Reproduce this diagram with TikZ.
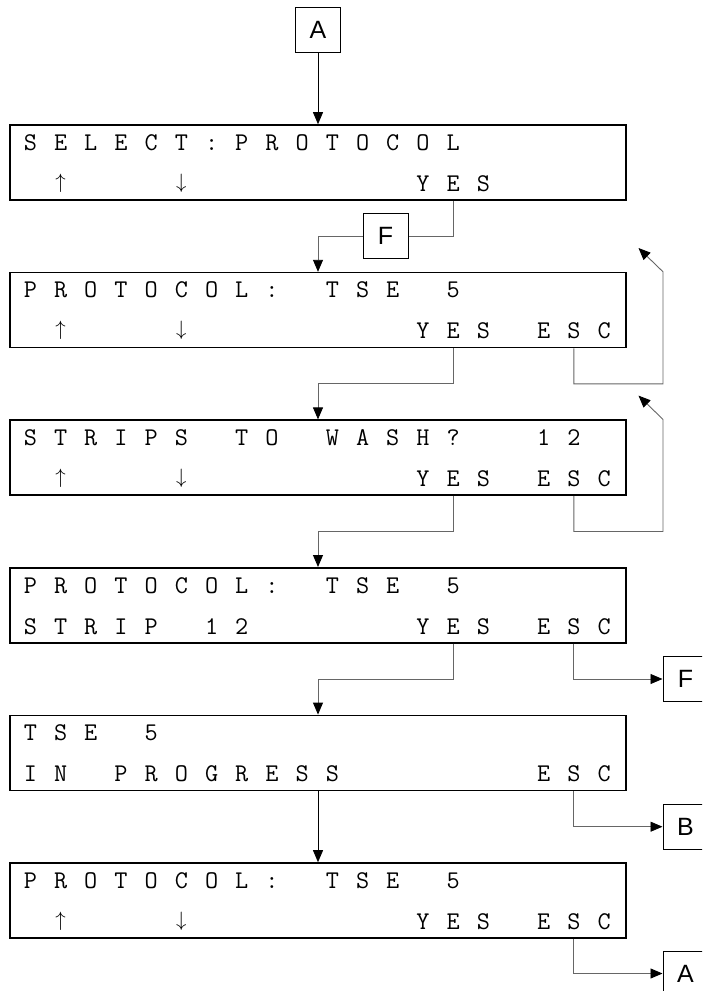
\documentclass[tikz,border=0pt]{standalone}
\usepackage{fontspec}
\newfontfamily\lab{Liberation Sans}
\usetikzlibrary{arrows.meta,calc}
\newlength\lcdw \setlength\lcdw{30.2pt}
\newlength\lcdc \setlength\lcdc{15.1pt}
\let\lcdend\relax
\def\lcd#1{\lcdA#1\lcdend}
\def\lcdA#1{\ifx#1\lcdend\else\lcdB{#1}\expandafter\lcdA\fi}
\def\lcdB#1{\ifx#1.\hbox to\lcdw{\hfil}\else\hbox to\lcdw{\hbox to\lcdc{\hss#1\hss}\hss}\fi}
\newcommand\up{\raisebox{3pt}{\fontsize{20.74}{20.74}\selectfont$\uparrow$}}
\newcommand\dn{\raisebox{3pt}{\fontsize{20.74}{20.74}\selectfont$\downarrow$}}
\begin{document}
\begin{tikzpicture}[x=1pt,y=-1pt,
  screen/.style={draw=black, line width=1.6pt, minimum width=616pt, minimum height=75pt, inner sep=0pt},
  tag/.style={draw=black, line width=1pt, minimum size=45pt, inner sep=0pt, fill=white, font=\lab\fontsize{25}{25}\selectfont},
  txt/.style={anchor=base west, inner sep=0pt, font=\ttfamily\fontsize{25.5}{25.5}\selectfont},
  conn/.style={draw=black!60, line width=0.9pt},
  blk/.style={draw=black, line width=0.9pt},
  arr/.style={-{Triangle[length=12pt,width=10pt,color=black]}}]
\useasboundingbox (0,0) rectangle (702,991);
\clip (0,0) rectangle (702,991);

% screens
\node[screen] (b1) at (318,162.5) {};
\node[screen] (b2) at (318,310.1) {};
\node[screen] (b3) at (318,457.7) {};
\node[screen] (b4) at (318,605.3) {};
\node[screen] (b5) at (318,752.9) {};
\node[screen] (b6) at (318,900.5) {};

\node[txt] (b1a) at ($(b1.north west)+(13.45,26)$) {\lcd{SELECT:PROTOCOL}};
\node[txt] (b1b) at ($(b1.north west)+(13.45,67)$) {\lcd{.\up...\dn.......YES}};
\node[txt] (b2a) at ($(b2.north west)+(13.45,26)$) {\lcd{PROTOCOL:.TSE.5}};
\node[txt] (b2b) at ($(b2.north west)+(13.45,67)$) {\lcd{.\up...\dn.......YES.ESC}};
\node[txt] (b3a) at ($(b3.north west)+(13.45,26)$) {\lcd{STRIPS.TO.WASH?..12}};
\node[txt] (b3b) at ($(b3.north west)+(13.45,67)$) {\lcd{.\up...\dn.......YES.ESC}};
\node[txt] (b4a) at ($(b4.north west)+(13.45,26)$) {\lcd{PROTOCOL:.TSE.5}};
\node[txt] (b4b) at ($(b4.north west)+(13.45,67)$) {\lcd{STRIP.12.....YES.ESC}};
\node[txt] (b5a) at ($(b5.north west)+(13.45,26)$) {\lcd{TSE.5}};
\node[txt] (b5b) at ($(b5.north west)+(13.45,67)$) {\lcd{IN.PROGRESS......ESC}};
\node[txt] (b6a) at ($(b6.north west)+(13.45,26)$) {\lcd{PROTOCOL:.TSE.5}};
\node[txt] (b6b) at ($(b6.north west)+(13.45,67)$) {\lcd{.\up...\dn.......YES.ESC}};

% tags
\node[tag] (A1) at (318,29.5) {A};
\node[tag] (F1) at (385.5,236.3) {F};
\node[tag] (F2) at (685.5,679) {F};
\node[tag] (B1) at (685.5,826.7) {B};
\node[tag] (A2) at (685.5,973.5) {A};

% tap points
\foreach \b in {b1,b2,b3,b4,b6} {
  \coordinate (\b yes) at ($(\b.south west)+(443.8,0)$);
}
\foreach \b in {b2,b3,b4,b5,b6} {
  \coordinate (\b esc) at ($(\b.south west)+(564.6,0)$);
}
\coordinate (m2) at ($(b2.south)!0.5!(b3.north)$);
\coordinate (m3) at ($(b3.south)!0.5!(b4.north)$);
\coordinate (m4) at ($(b4.south)!0.5!(b5.north)$);
\coordinate (r2) at (663,310.1);
\coordinate (r3) at (663,457.7);
\coordinate (k2) at (638.5,248);
\coordinate (k3) at (638.5,395.6);

% connectors
\draw[blk,arr] (A1.south) -- (b1.north);
\draw[conn] (b1yes) |- (F1.east);
\draw[conn,arr] (F1.west) -| (b2.north);
\draw[conn,arr] (b2yes) -- (b2yes |- m2) -| (b3.north);
\draw[conn,arr] (b3yes) -- (b3yes |- m3) -| (b4.north);
\draw[conn,arr] (b4yes) -- (b4yes |- m4) -| (b5.north);
\draw[conn,arr] (b2esc) |- (r2 |- m2) -- (r2 |- b2.north) -- (k2);
\draw[conn,arr] (b3esc) |- (r3 |- m3) -- (r3 |- b3.north) -- (k3);
\draw[conn,arr] (b4esc) |- (F2.west);
\draw[blk,arr] (b5.south) -- (b6.north);
\draw[conn,arr] (b5esc) |- (B1.west);
\draw[conn,arr] (b6esc) |- (A2.west);
\end{tikzpicture}
\end{document}
